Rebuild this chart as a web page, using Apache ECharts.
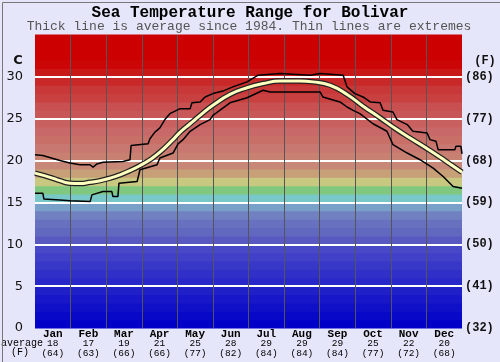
<!DOCTYPE html>
<html>
<head>
<meta charset="utf-8">
<script src="https://cdn.jsdelivr.net/npm/echarts@6/dist/echarts.min.js"></script>
<style>html,body{margin:0;padding:0;background:#e6e6fa;}#c{width:500px;height:362px;}</style>
</head>
<body>
<div id="c"></div>
<script>
// ---- data ----
const titleText = 'Sea Temperature Range for Bolivar';
const subtitleText = 'Thick line is average since 1984. Thin lines are extremes';
const months = ['Jan','Feb','Mar','Apr','May','Jun','Jul','Aug','Sep','Oct','Nov','Dec'];
const avgC = [18,17,19,21,25,28,29,29,29,25,22,20];
const avgF = [64,63,66,66,77,82,84,84,84,77,72,68];
const yTicksC = [0,5,10,15,20,25,30];
const yTicksF = ['(32)','(41)','(50)','(59)','(68)','(77)','(86)'];
// x = month position (0 = start of Jan, 12 = end of Dec), y = deg C
const maxLine = [
  [0,20.7],[0.22,20.6],[0.70,20.0],[0.98,19.7],[1.26,19.5],[1.55,19.5],[1.63,19.2],[1.74,19.6],
  [1.91,19.8],[2.47,19.9],[2.67,20.1],[2.70,21.8],[3.18,22.0],[3.23,22.6],[3.37,23.4],[3.51,23.9],
  [3.65,24.9],[3.79,25.6],[4.08,26.2],[4.36,26.2],[4.41,26.9],[4.64,27.0],[4.78,27.6],[5.00,28.0],
  [5.28,28.3],[5.56,28.8],[5.96,29.4],[6.27,30.2],[6.89,30.4],[7.73,30.2],[8.01,30.4],[8.66,30.2],
  [8.77,28.8],[8.99,28.0],[9.22,27.6],[9.42,27.0],[9.70,26.9],[9.78,26.0],[10.06,25.8],[10.17,24.9],
  [10.46,24.3],[10.62,23.5],[11.02,23.3],[11.10,22.5],[11.27,22.3],[11.33,21.3],[11.80,21.3],
  [11.83,21.7],[11.97,21.7],[12,20.8]
];
const avgLine = [
  [0,18.5],[0.42,18.0],[0.70,17.6],[0.98,17.3],[1.26,17.25],[1.55,17.4],[1.83,17.6],[2.11,17.9],
  [2.39,18.3],[2.67,18.8],[2.95,19.4],[3.23,20.1],[3.51,21.0],[3.88,22.5],[4.08,23.4],[4.36,24.4],
  [4.64,25.4],[5.00,26.6],[5.48,27.9],[5.96,28.7],[6.41,29.2],[6.89,29.5],[7.45,29.5],[7.81,29.4],
  [8.29,29.0],[8.77,27.9],[9.22,26.5],[9.70,25.1],[10.17,23.7],[10.54,22.7],[11.10,21.2],
  [11.52,20.0],[12,18.6]
];
const minLine = [
  [0,16.1],[0.22,16.1],[0.25,15.4],[0.70,15.3],[0.98,15.2],[1.55,15.1],[1.60,15.9],[1.91,16.3],
  [2.16,16.3],[2.19,15.7],[2.33,15.7],[2.36,17.3],[2.87,17.5],[2.95,18.9],[3.43,19.5],[3.51,20.3],
  [3.88,20.9],[4.02,22.0],[4.16,22.5],[4.36,23.5],[4.64,24.3],[4.92,24.9],[5.00,25.4],[5.48,26.9],
  [5.96,27.5],[6.41,28.4],[6.61,28.2],[8.01,28.2],[8.09,27.6],[8.57,27.0],[8.77,26.4],[8.94,26.0],
  [9.13,25.6],[9.50,24.4],[9.89,23.5],[10.06,21.9],[10.46,20.9],[10.82,20.1],[11.19,19.1],
  [11.47,18.1],[11.75,16.9],[12,16.7]
];

// ---- style: one colour per 1 degree background band ----
const bandColors = [
  '#0000c8','#0808c8','#1010c8','#1818c8','#2020c8','#2828c8','#3030c8','#3838c8','#4040c8','#4848c8',
  '#5858c0','#6068c0','#6870c0','#7080c0','#78a0c8','#78c8c8','#80c880','#c8c880','#c8a078','#c88878',
  '#c88070','#c87870','#c87068','#c86868','#c86060','#c85858','#c85050','#c84040','#c83838','#c82828',
  '#c81818','#cc0606','#cc0000','#cc0000','#cc0000'
];

const chart = echarts.init(document.getElementById('c'));
const mono = 'Liberation Mono';
chart.setOption({
  backgroundColor: '#e6e6fa',
  animation: false,
  grid: {left: 35, right: 38, top: 35, bottom: 34},
  xAxis: [
    {type: 'value', min: 0, max: 12, interval: 1, z: 3,
     axisLine: {show: false}, axisTick: {show: false}, axisLabel: {show: false},
     splitLine: {show: true, showMinLine: false, showMaxLine: false, lineStyle: {color: '#555555', width: 1}}},
    {type: 'category', data: months, position: 'bottom', boundaryGap: true,
     axisLine: {show: false}, axisTick: {show: false}, splitLine: {show: false},
     axisLabel: {
       margin: 1, interval: 0,
       formatter: (v, i) => '{m|' + v + '}\n{n|' + avgC[i] + '}\n{n|(' + avgF[i] + ')}',
       rich: {
         m: {fontFamily: mono, fontSize: 11, fontWeight: 'bold', color: '#000', lineHeight: 10},
         n: {fontFamily: mono, fontSize: 9.5, color: '#000', lineHeight: 9.5}
       }
     }}
  ],
  yAxis: [
    {type: 'value', min: 0, max: 35, interval: 5, z: 3,
     axisLine: {show: false}, axisTick: {show: false},
     axisLabel: {margin: 12, fontFamily: 'DejaVu Sans', fontSize: 13, color: '#111',
       formatter: v => yTicksC.includes(v) ? String(v) : ''},
     splitLine: {show: true, showMinLine: false, showMaxLine: false, lineStyle: {color: '#ffffff', width: 2}}},
    {type: 'value', min: 0, max: 35, interval: 5, position: 'right',
     axisLine: {show: false}, axisTick: {show: false}, splitLine: {show: false},
     axisLabel: {margin: 3, fontFamily: mono, fontSize: 12, fontWeight: 'bold', color: '#111',
       formatter: v => yTicksF[v / 5] || ''}}
  ],
  graphic: [
    {type: 'text', x: 250, y: 13, style: {text: titleText, font: 'bold 16px "Liberation Mono"', fill: '#000', align: 'center', verticalAlign: 'middle'}},
    {type: 'text', x: 249, y: 27, style: {text: subtitleText, font: '13px "Liberation Mono"', fill: '#555', align: 'center', verticalAlign: 'middle'}},
    {type: 'text', x: 18, y: 61, style: {text: 'C', font: 'bold 13px "DejaVu Sans"', fill: '#111', align: 'center', verticalAlign: 'middle'}},
    {type: 'text', x: 485, y: 61, style: {text: '(F)', font: 'bold 12px "Liberation Mono"', fill: '#111', align: 'center', verticalAlign: 'middle'}},
    {type: 'text', x: 22, y: 343, style: {text: 'average', font: '10px "Liberation Mono"', fill: '#000', align: 'center', verticalAlign: 'middle'}},
    {type: 'text', x: 20, y: 352, style: {text: '(F)', font: '10px "Liberation Mono"', fill: '#000', align: 'center', verticalAlign: 'middle'}},
    {type: 'rect', left: 0, top: 0, shape: {width: 499, height: 361}, style: {fill: 'none', stroke: '#777', lineWidth: 1}, z: 100}
  ],
  series: [
    {type: 'custom', silent: true, z: 1, xAxisIndex: 0, yAxisIndex: 0,
     data: bandColors.map((c, i) => [0, i]),
     encode: {x: 0, y: 1},
     renderItem: (params, api) => {
       const lo = api.value(1);
       const p1 = api.coord([0, lo + 1]);
       const p2 = api.coord([12, lo]);
       return {type: 'rect',
         shape: {x: p1[0], y: p1[1] - 0.5, width: p2[0] - p1[0], height: p2[1] - p1[1] + 1},
         style: {fill: bandColors[lo]}};
     }},
    {type: 'line', data: maxLine, xAxisIndex: 0, yAxisIndex: 0, z: 5, symbol: 'none',
     lineStyle: {color: '#000', width: 1.5}},
    {type: 'line', data: minLine, xAxisIndex: 0, yAxisIndex: 0, z: 5, symbol: 'none',
     lineStyle: {color: '#000', width: 1.5}},
    {type: 'line', data: avgLine, xAxisIndex: 0, yAxisIndex: 0, z: 6, symbol: 'none', smooth: true,
     lineStyle: {color: '#222', width: 5.5}},
    {type: 'line', data: avgLine, xAxisIndex: 0, yAxisIndex: 0, z: 7, symbol: 'none', smooth: true,
     lineStyle: {color: '#ffffc0', width: 3}}
  ]
});
</script>
</body>
</html>
